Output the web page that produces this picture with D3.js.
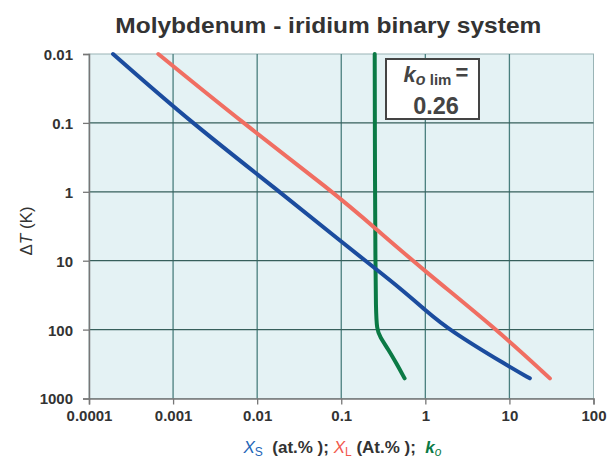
<!DOCTYPE html>
<html><head><meta charset="utf-8">
<script src="https://cdn.jsdelivr.net/npm/d3@7"></script>
<style>body{margin:0;background:#fff;}svg{display:block;font-family:"Liberation Sans",Arial,sans-serif;}</style>
</head><body><svg id="c" width="616" height="457"></svg>
<script>
const titleText = "Molybdenum - iridium binary system";
const xTicks = [0.0001, 0.001, 0.01, 0.1, 1, 10, 100];
const xTickLabels = ["0.0001", "0.001", "0.01", "0.1", "1", "10", "100"];
const yTicks = [0.01, 0.1, 1, 10, 100, 1000];
const yTickLabels = ["0.01", "0.1", "1", "10", "100", "1000"];
// Solid composition X_S
const dTsolid = [0.01, 0.1, 1, 5.3, 12.8, 25.1, 52, 100, 347, 510];
const xSolid = [0.000193, 0.00166, 0.0186, 0.1, 0.25, 0.5, 1.0, 1.88, 10, 17.5];
// Liquid composition X_L
const dTliquid = [0.01, 0.1, 1, 3.39, 13.6, 99, 510];
const xLiquid = [0.000667, 0.00676, 0.0794, 0.255, 0.944, 7.05, 30.3];
// Partition coefficient k_o
const dTk = [0.01, 1, 10, 50, 100, 127, 198, 308, 510];
const kValues = [0.25, 0.252, 0.255, 0.258, 0.265, 0.288, 0.366, 0.452, 0.567];
const kLim = "0.26";

const svg = d3.select("#c");
const L = 89, R = 593.5, T = 54, B = 398.5;
const x = d3.scaleLog().domain([0.0001, 100]).range([L, R]);
const y = d3.scaleLog().domain([0.01, 1000]).range([T, B]);
const txt = "#333";

svg.append("text").attr("x", 328.3).attr("y", 33.3).attr("text-anchor", "middle")
  .attr("font-size", 22.5).attr("font-weight", "bold").attr("fill", txt)
  .attr("textLength", 426).attr("lengthAdjust", "spacingAndGlyphs").text(titleText);

svg.append("rect").attr("x", L).attr("y", T).attr("width", R - L).attr("height", B - T)
  .attr("fill", "#e4f2f4").attr("stroke", "#9ab4b6").attr("stroke-width", 1);

const grid = svg.append("g");
grid.selectAll("line.v").data(xTicks.slice(1, -1)).join("line")
  .attr("x1", d => x(d)).attr("x2", d => x(d)).attr("y1", T).attr("y2", B)
  .attr("stroke", "#4a7f7e").attr("stroke-width", 1.3);
grid.selectAll("line.h").data(yTicks.slice(1, -1)).join("line")
  .attr("y1", d => y(d)).attr("y2", d => y(d)).attr("x1", L).attr("x2", R)
  .attr("stroke", "#365f5b").attr("stroke-width", 1.3);

const xAxis = svg.append("g").attr("transform", `translate(0,${B})`)
  .call(d3.axisBottom(x).tickValues(xTicks).tickFormat((d, i) => xTickLabels[i]).tickSize(6).tickPadding(6));
const yAxis = svg.append("g").attr("transform", `translate(${L},0)`)
  .call(d3.axisLeft(y).tickValues(yTicks).tickFormat((d, i) => yTickLabels[i]).tickSize(6).tickPadding(10));
[xAxis, yAxis].forEach(a => {
  a.select(".domain").attr("stroke", "#777").attr("stroke-width", 1.5);
  a.selectAll(".tick line").attr("stroke", "#777").attr("stroke-width", 1.3);
  a.selectAll(".tick text").attr("font-size", 15).attr("font-weight", "bold").attr("fill", txt)
    .attr("font-family", "Liberation Sans, Arial, sans-serif");
});
yAxis.selectAll(".tick text").attr("dy", "0.36em");

const line = d3.line().curve(d3.curveBasis);
function draw(xs, ts, color) {
  const pts = xs.map((v, i) => [x(v), y(ts[i])]);
  svg.append("path").attr("d", line(pts)).attr("fill", "none").attr("stroke", color)
    .attr("stroke-width", 4).attr("stroke-linecap", "round");
}
draw(kValues, dTk, "#0b7a45");
draw(xLiquid, dTliquid, "#f06e62");
draw(xSolid, dTsolid, "#1b4c9e");

// k lim box
svg.append("rect").attr("x", 386).attr("y", 59).attr("width", 93).attr("height", 60)
  .attr("fill", "#fff").attr("stroke", "#444").attr("stroke-width", 2);
const bt = svg.append("text").attr("x", 436).attr("y", 81.7).attr("text-anchor", "middle")
  .attr("font-weight", "bold").attr("fill", "#444");
bt.append("tspan").attr("font-style", "italic").attr("font-size", 22).text("k");
bt.append("tspan").attr("font-style", "italic").attr("font-size", 16).attr("dy", 3).text("o");
bt.append("tspan").attr("font-size", 15).text(" lim ");
bt.append("tspan").attr("font-size", 22).attr("dy", -5).text("=");
svg.append("text").attr("x", 436).attr("y", 114).attr("text-anchor", "middle")
  .attr("font-weight", "bold").attr("font-size", 23.5).attr("fill", "#444").text(kLim);

// y label
svg.append("text").attr("transform", "translate(32,231) rotate(-90)").attr("text-anchor", "middle")
  .attr("font-size", 17).attr("fill", txt)
  .html('Δ<tspan font-style="italic">T</tspan>  (K)');

// x label
const xl = svg.append("text").attr("x", 342.5).attr("y", 452.5).attr("text-anchor", "middle")
  .attr("font-size", 17).attr("fill", txt).attr("xml:space", "preserve").style("white-space", "pre");
xl.append("tspan").attr("fill", "#1d66b8").attr("font-style", "italic").text("X");
xl.append("tspan").attr("fill", "#1d66b8").attr("font-size", 12).attr("dy", 3).text("S");
xl.append("tspan").attr("font-weight", "bold").attr("dy", -3).text("  (at.% ); ");
xl.append("tspan").attr("fill", "#f2584e").attr("font-style", "italic").text("X");
xl.append("tspan").attr("fill", "#f2584e").attr("font-size", 12).attr("dy", 3).text("L");
xl.append("tspan").attr("font-weight", "bold").attr("dy", -3).text(" (At.% );  ");
xl.append("tspan").attr("fill", "#0b7a45").attr("font-style", "italic").attr("font-weight", "bold").text("k");
xl.append("tspan").attr("fill", "#0b7a45").attr("font-style", "italic").attr("font-size", 12).attr("dy", 3).text("o");
</script></body></html>
